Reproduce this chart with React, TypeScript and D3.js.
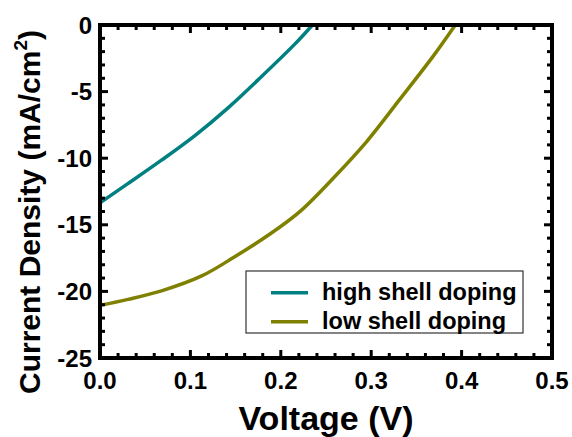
import React from "react";
import * as d3 from "d3";

// J-V curves (voltage in V, current density in mA/cm^2)
const highVoltage = [0, 0.03, 0.068, 0.105, 0.142, 0.179, 0.216, 0.235];
const highCurrent = [-13.35, -11.95, -10.15, -8.3, -6.2, -3.85, -1.4, 0];
const lowVoltage = [0, 0.031, 0.068, 0.1125, 0.149, 0.19, 0.222, 0.258, 0.295, 0.332, 0.369, 0.393];
const lowCurrent = [-21.05, -20.6, -19.96, -18.84, -17.4, -15.6, -13.95, -11.5, -8.75, -5.55, -2.3, 0];

const seriesNames = ["high shell doping", "low shell doping"];
const seriesColors = ["#008080", "#808000"];

const xTicks = [0, 0.1, 0.2, 0.3, 0.4, 0.5];
const yTicks = [0, -5, -10, -15, -20, -25];

const W = 572;
const H = 437;
const M = { left: 100, right: 20, top: 25, bottom: 79 };
const FONT = "'Liberation Sans', Arial, Helvetica, sans-serif";

export default function App() {
  const x = d3.scaleLinear().domain([0, 0.5]).range([M.left, W - M.right]);
  const y = d3.scaleLinear().domain([-25, 0]).range([H - M.bottom, M.top]);
  const x0 = x.range()[0];
  const x1 = x.range()[1];
  const y0 = y.range()[0];
  const y1 = y.range()[1];

  const line = d3
    .line<[number, number]>()
    .x((d) => x(d[0]))
    .y((d) => y(d[1]))
    .curve(d3.curveCatmullRom.alpha(0.5));

  const series = [
    d3.zip(highVoltage, highCurrent) as [number, number][],
    d3.zip(lowVoltage, lowCurrent) as [number, number][],
  ];

  const xMinor = d3.range(0, 0.5001, 0.02).filter((v) => Math.abs(v * 10 - Math.round(v * 10)) > 1e-6);
  const yMinor = d3.range(-25, 0.001, 1).filter((v) => v % 5 !== 0);

  const majorLen = 8;
  const minorLen = 5;
  const tickW = 3;

  return (
    <svg width={W} height={H} style={{ position: "absolute", left: 0, top: 0, background: "#fff" }}>
      <defs>
        <clipPath id="plotClip">
          <rect x={x0} y={y1} width={x1 - x0} height={y0 - y1} />
        </clipPath>
      </defs>

      {/* curves */}
      <g clipPath="url(#plotClip)">
        {series.map((s, i) => (
          <path key={i} d={line(s) || ""} fill="none" stroke={seriesColors[i]} strokeWidth={3.5} />
        ))}
      </g>

      {/* ticks on all four sides, pointing inward */}
      <g stroke="#000" strokeWidth={tickW}>
        {xTicks.map((t) => (
          <g key={"xt" + t}>
            <line x1={x(t)} x2={x(t)} y1={y0} y2={y0 - majorLen} />
            <line x1={x(t)} x2={x(t)} y1={y1} y2={y1 + majorLen} />
          </g>
        ))}
        {xMinor.map((t) => (
          <g key={"xm" + t}>
            <line x1={x(t)} x2={x(t)} y1={y0} y2={y0 - minorLen} />
            <line x1={x(t)} x2={x(t)} y1={y1} y2={y1 + minorLen} />
          </g>
        ))}
        {yTicks.map((t) => (
          <g key={"yt" + t}>
            <line x1={x0} x2={x0 + majorLen} y1={y(t)} y2={y(t)} />
            <line x1={x1} x2={x1 - majorLen} y1={y(t)} y2={y(t)} />
          </g>
        ))}
        {yMinor.map((t) => (
          <g key={"ym" + t}>
            <line x1={x0} x2={x0 + minorLen} y1={y(t)} y2={y(t)} />
            <line x1={x1} x2={x1 - minorLen} y1={y(t)} y2={y(t)} />
          </g>
        ))}
      </g>

      {/* frame */}
      <rect x={x0} y={y1} width={x1 - x0} height={y0 - y1} fill="none" stroke="#000" strokeWidth={4} />

      {/* tick labels */}
      <g fontFamily={FONT} fontWeight="bold" fontSize={24} fill="#000">
        {xTicks.map((t) => (
          <text key={"xl" + t} x={x(t)} y={y0 + 31} textAnchor="middle">
            {d3.format(".1f")(t)}
          </text>
        ))}
        {yTicks.map((t) => (
          <text key={"yl" + t} x={x0 - 8} y={y(t)} dy="0.36em" textAnchor="end">
            {t === 0 ? "0" : "-" + Math.abs(t)}
          </text>
        ))}
      </g>

      {/* axis titles */}
      <text
        x={(x0 + x1) / 2}
        y={430}
        textAnchor="middle"
        fontFamily={FONT}
        fontWeight="bold"
        fontSize={34}
      >
        Voltage (V)
      </text>
      <text
        transform={`translate(40, 212) rotate(-90)`}
        textAnchor="middle"
        fontFamily={FONT}
        fontWeight="bold"
        fontSize={30}
      >
        Current Density (mA/cm
        <tspan fontSize={19} dy={-13}>2</tspan>
        <tspan dy={13}>)</tspan>
      </text>

      {/* legend */}
      <g>
        <rect x={246} y={271} width={277} height={62} fill="#fff" stroke="#333" strokeWidth={1.2} />
        {seriesNames.map((name, i) => (
          <g key={name}>
            <line
              x1={271}
              x2={308}
              y1={292.7 + i * 29}
              y2={292.7 + i * 29}
              stroke={seriesColors[i]}
              strokeWidth={3.5}
            />
            <text
              x={322}
              y={300 + i * 29}
              fontFamily={FONT}
              fontWeight="bold"
              fontSize={23.5}
              fill="#000"
            >
              {name}
            </text>
          </g>
        ))}
      </g>
    </svg>
  );
}
